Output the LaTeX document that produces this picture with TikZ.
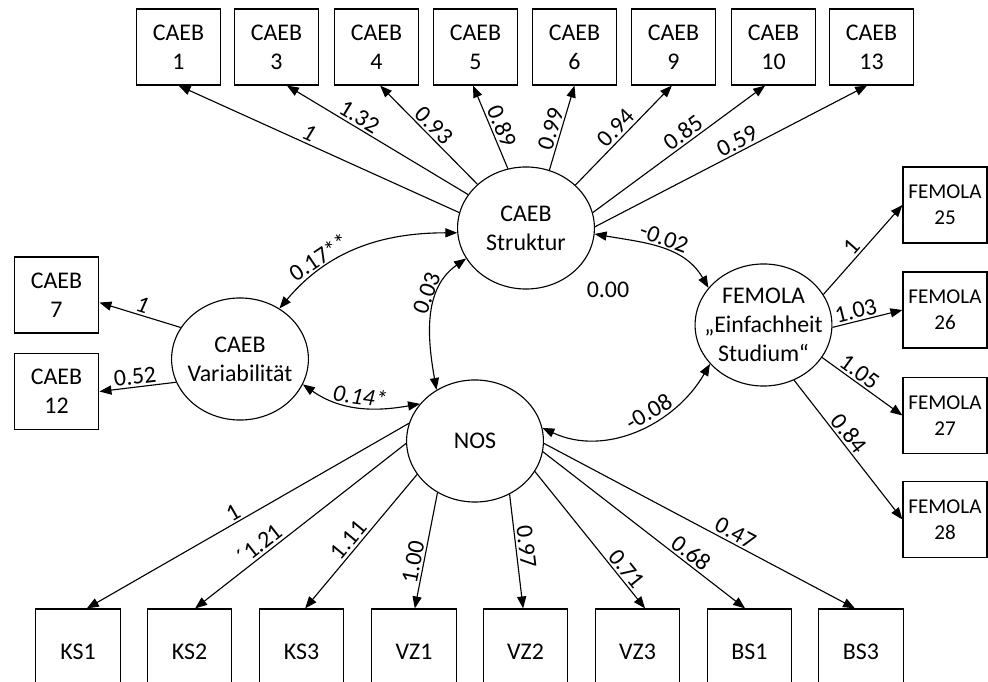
\documentclass[tikz,border=0pt]{standalone}
\usepackage{fontspec}
\setmainfont{Carlito}
\usetikzlibrary{shapes.geometric,arrows.meta}

\tikzset{
  obs/.style={draw, line width=0.8pt, minimum width=2.12cm, minimum height=1.9cm, inner sep=0pt, align=center},
  latent/.style={draw, ellipse, line width=0.8pt, minimum width=3.42cm, minimum height=3.05cm, inner sep=0pt},
  load/.style={-{Triangle[length=8.5pt,width=6.5pt]}, line width=0.8pt},
  cov/.style={{Triangle[length=8.5pt,width=6.5pt]}-{Triangle[length=8.5pt,width=6.5pt]}, line width=0.8pt},
  coef/.style={sloped, above, inner sep=1.5pt},
}

\begin{document}
\begin{tikzpicture}[x=0.025cm, y=-0.025cm, font=\fontsize{17}{20.5}\selectfont]
  \clip (0,0) rectangle (988,682);

  % latent variables
  \node[latent] (S) at (526,228) {};
  \node[align=center] (S-txt) at (S) {CAEB\\Struktur};
  \node[latent] (V) at (240,359) {};
  \node[align=center] (V-txt) at (V) {CAEB\\Variabilität};
  \node[latent] (N) at (475,441) {};
  \node (N-txt) at (N) {NOS};
  \node[latent] (F) at (763.5,325) {};
  \node[align=center] (F-txt) at (F) {FEMOLA\\„Einfachheit\\Studium“};

  % indicators
  \foreach \n/\x in {1/178.5, 3/276.5, 4/376.5, 5/475.5, 6/574.5, 9/673.5, 10/773.5, 13/871.5}
    \node[obs] (c\n) at (\x,47) {CAEB\\\n};
  \node[obs] (c7) at (56.5,295) {CAEB\\7};
  \node[obs] (c12) at (56.5,391.5) {CAEB\\12};
  \foreach \n/\y in {25/205, 26/310, 27/415.5, 28/519.5}
    \node[obs, minimum width=2.1cm, font=\fontsize{15}{18.5}\selectfont] (f\n) at (945,\y) {FEMOLA\\\n};
  \foreach \n/\x in {KS1/78, KS2/189.5, KS3/301.5, VZ1/414, VZ2/525.5, VZ3/637.5, BS1/749.5, BS3/861}
    \node[obs, minimum height=2.15cm] (\n) at (\x,652) {\n};

  % loadings
  \foreach \n/\a/\dx/\p/\v in {1/167/0/0.55/{\textit{1}}, 3/150/0.26/0.63/1.32, 4/138/0.09/0.52/0.93,
      5/107/-0.06/0.46/0.89, 6/68/0/0.45/0.99, 9/41/-0.04/0.5/0.94, 10/13/-0.21/0.56/0.85, 13/1/-0.11/0.54/0.59}
    \draw[load] (S.\a) -- ([xshift=\dx cm]c\n.south) node[coef, pos=\p] {\v};
  \draw[load] (V.152) -- (c7.350) node[coef, pos=0.51] {\textit{1}};
  \draw[load] (V.200) -- (c12.east) node[coef, pos=0.52] {0.52};
  \foreach \n/\a/\p/\v in {25/27/0.46/1, 26/358/0.37/1.03, 27/331/0.39/1.05, 28/299/0.43/0.84}
    \draw[load] (F.\a) -- (f\n.west) node[coef, pos=\p] {\v};
  \foreach \n/\a/\dx/\p/\v in {KS1/165/0.22/0.53/1, KS2/182/0.14/0.66/´1.21, KS3/210/0.09/0.54/1.11,
      VZ1/234/0.02/0.62/1.00, VZ2/303/-0.06/0.47/0.97, VZ3/333/0.19/0.76/0.71, BS1/351/-0.11/0.70/0.68, BS3/358/-0.15/0.60/0.47}
    \draw[load] (N.\a) -- ([xshift=\dx cm]\n.north) node[coef, pos=\p] {\v};

  % covariances
  \draw[cov] (V.52) to[out=50, in=180] node[coef, pos=0.3] {0.17**} (S.184);
  \draw[cov] (S.207) to[out=215, in=100] node[coef, pos=0.35] {0.03} (N.127);
  \draw[cov] (V.338) to[out=-35, in=190] node[coef, pos=0.5] {\textit{0.14*}} (N.146);
  \draw[cov] (S.355) to[out=-10, in=120] node[coef, pos=0.5] {-0.02} (F.146);
  \draw[cov] (N.11) to[out=-25, in=240] node[coef, pos=0.6] {-0.08} (F.216);
  \node (r00) at (608,290) {0.00};
\end{tikzpicture}
\end{document}
